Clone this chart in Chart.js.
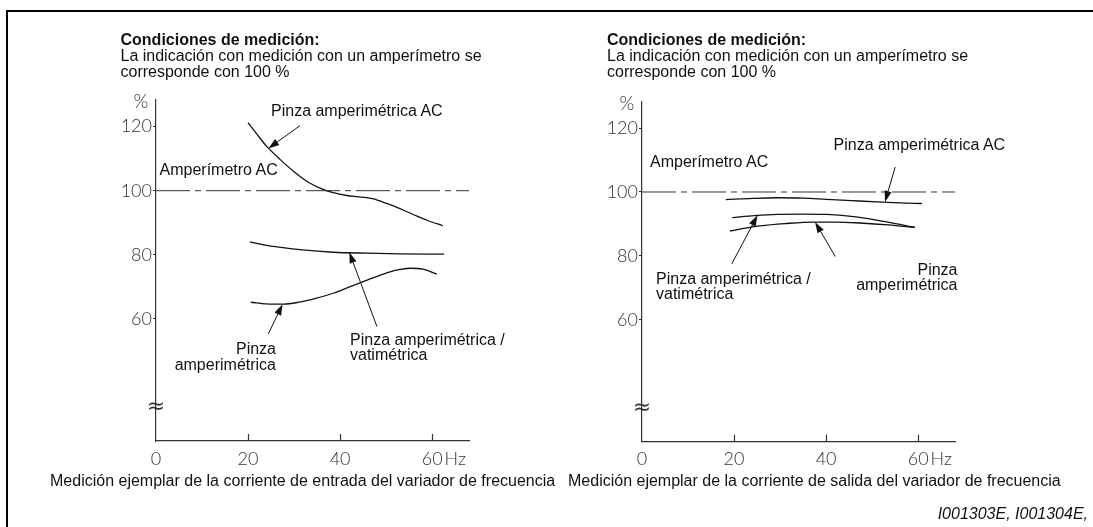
<!DOCTYPE html>
<html>
<head>
<meta charset="utf-8">
<script src="https://cdn.jsdelivr.net/npm/chart.js@4.4.1/dist/chart.umd.min.js"></script>
<style>
  html, body { margin: 0; padding: 0; background: #fff; }
  #page { position: relative; width: 1093px; height: 527px; overflow: hidden; background: #fff;
          font-family: 'Liberation Sans', Arial, Helvetica, sans-serif; color: #111; }
  #frame { position: absolute; left: 6px; top: 10px; width: 1200px; height: 700px;
           border-left: 2px solid #000; border-top: 2px solid #000; }
  canvas { position: absolute; top: 0; }
  .t { position: absolute; font-size: 16px; line-height: 16px; white-space: nowrap; }
  .b { font-weight: bold; }
  .r { text-align: right; }
  .i { font-style: italic; }
</style>
</head>
<body>
<div id="page">
  <div id="frame"></div>
  <canvas id="entrada" width="607" height="527" style="left:0px"></canvas>
  <canvas id="salida" width="607" height="527" style="left:486px"></canvas>

  <!-- Entrada -->
  <div class="t b" style="left:120.5px;top:32px">Condiciones de medición:</div>
  <div class="t" style="left:120.5px;top:48px">La indicación con medición con un amperímetro se</div>
  <div class="t" style="left:120.5px;top:63.5px">corresponde con 100 %</div>
  <div class="t" style="left:271px;top:103px">Pinza amperimétrica AC</div>
  <div class="t" style="left:159.5px;top:161.5px">Amperímetro AC</div>
  <div class="t" style="left:350px;top:331.5px">Pinza amperimétrica /</div>
  <div class="t" style="left:350px;top:346.5px">vatimétrica</div>
  <div class="t r" style="right:817px;top:341px">Pinza</div>
  <div class="t r" style="right:817px;top:356.5px">amperimétrica</div>
  <div class="t" style="left:50px;top:472.5px">Medición ejemplar de la corriente de entrada del variador de frecuencia</div>

  <!-- Salida -->
  <div class="t b" style="left:607px;top:32px">Condiciones de medición:</div>
  <div class="t" style="left:607px;top:48px">La indicación con medición con un amperímetro se</div>
  <div class="t" style="left:607px;top:63.5px">corresponde con 100 %</div>
  <div class="t" style="left:833.5px;top:137px">Pinza amperimétrica AC</div>
  <div class="t" style="left:650px;top:154px">Amperímetro AC</div>
  <div class="t" style="left:656px;top:270.5px">Pinza amperimétrica /</div>
  <div class="t" style="left:656px;top:286px">vatimétrica</div>
  <div class="t r" style="right:135.5px;top:261.5px">Pinza</div>
  <div class="t r" style="right:135.5px;top:276.5px">amperimétrica</div>
  <div class="t" style="left:568px;top:473px">Medición ejemplar de la corriente de salida del variador de frecuencia</div>

  <div class="t i r" style="right:5px;top:505.5px">I001303E, I001304E,</div>
</div>

<script>
// Axes
const X_MIN = 0, X_MAX = 68;          // Hz
const Y_MIN = 21.9, Y_MAX = 128.3;    // %
const X_TICKS = [0, 20, 40, 60];
const Y_TICKS = [60, 80, 100, 120];
const X_UNIT = 'Hz';
const Y_UNIT = '%';
const REFERENCE_PCT = 100;            // Amperímetro AC

// Corriente de entrada del variador
const inAcClampHz   = [20, 22, 24, 27, 30, 33, 36, 38.5, 41.5, 44, 47, 50, 53, 56, 59, 62.3];
const inAcClampPct  = [121.2, 117.5, 113.9, 109.7, 105.9, 102.7, 100.6, 99.4, 98.5, 98.1, 97.5, 96.1, 94.4, 92.5, 90.7, 89.1];
const inWattClampHz  = [20.4, 25.5, 31.3, 38.5, 45.8, 53, 62.6];
const inWattClampPct = [84.0, 82.6, 81.6, 80.8, 80.5, 80.3, 80.2];
const inClampHz  = [20.6, 24, 27.7, 31, 34.9, 38.5, 42.2, 46, 49.4, 52.5, 55.2, 58, 61];
const inClampPct = [65.2, 64.7, 64.6, 65.2, 66.5, 68, 70.1, 72.2, 74, 75.3, 75.8, 75.5, 74];

// Corriente de salida del variador
const outAcClampHz   = [18.2, 24, 29.3, 35, 40.1, 45.5, 51, 56, 60.8];
const outAcClampPct  = [97.6, 98.0, 98.2, 98.1, 97.7, 97.3, 96.9, 96.6, 96.4];
const outWattClampHz  = [19.6, 24.5, 29.3, 35, 40.1, 45.5, 51, 55.5, 59.3];
const outWattClampPct = [92.0, 92.6, 93.0, 93.1, 93.0, 92.4, 91.2, 90.0, 88.9];
const outClampHz  = [19.1, 22.5, 25.7, 31, 37.2, 42.5, 47.4, 53.5, 59.3];
const outClampPct = [87.8, 88.7, 89.4, 90.1, 90.6, 90.6, 90.3, 89.7, 88.9];

// Leader arrows: [tail Hz, tail %] -> [tip Hz, tip %]
const inArrows = [
  { from: [31.3, 120.3], to: [24.4, 113.2] },
  { from: [48.0, 57.6],  to: [42.0, 80.8] },
  { from: [24.4, 55.3],  to: [27.5, 64.6] }
];
const outArrows = [
  { from: [55.0, 107.8], to: [52.8, 96.9] },
  { from: [19.5, 77.5],  to: [25.1, 92.7] },
  { from: [42.0, 79.8],  to: [37.6, 90.6] }
];

const INK = '#111';
const AXIS = '#333';
const TICK_FONT = { family: "Lato, 'DejaVu Sans', sans-serif", size: 18, weight: 300 };

function pts(xs, ys) { return xs.map((x, i) => ({ x, y: ys[i] })); }

function curve(xs, ys) {
  return {
    data: pts(xs, ys), borderColor: INK, borderWidth: 1.3, pointRadius: 0,
    cubicInterpolationMode: 'monotone', fill: false
  };
}

function referenceLine() {
  return {
    data: [{ x: X_MIN, y: REFERENCE_PCT }, { x: X_MAX, y: REFERENCE_PCT }],
    borderColor: AXIS, borderWidth: 1, pointRadius: 0, borderDash: [34, 5, 6, 5], fill: false
  };
}

function drawArrow(ctx, x1, y1, x2, y2) {
  const ang = Math.atan2(y2 - y1, x2 - x1);
  const len = 11, half = 3.6;
  const bx = x2 - Math.cos(ang) * len, by = y2 - Math.sin(ang) * len;
  ctx.beginPath();
  ctx.moveTo(x1, y1);
  ctx.lineTo(bx, by);
  ctx.lineWidth = 1;
  ctx.strokeStyle = INK;
  ctx.stroke();
  ctx.beginPath();
  ctx.moveTo(x2, y2);
  ctx.lineTo(bx - Math.sin(ang) * half, by + Math.cos(ang) * half);
  ctx.lineTo(bx + Math.sin(ang) * half, by - Math.cos(ang) * half);
  ctx.closePath();
  ctx.fillStyle = INK;
  ctx.fill();
}

const decorations = {
  id: 'decorations',
  afterDraw(chart, args, opts) {
    const { ctx, scales: { x, y } } = chart;
    ctx.save();
    // inward tick marks on the frequency axis
    ctx.strokeStyle = AXIS;
    ctx.lineWidth = 1.2;
    X_TICKS.forEach(v => {
      if (v === X_MIN) return;
      const px = Math.round(x.getPixelForValue(v)) + 0.5;
      ctx.beginPath();
      ctx.moveTo(px, y.bottom);
      ctx.lineTo(px, y.bottom - 7);
      ctx.stroke();
    });
    // unit after the last frequency label
    const fontStr = `${TICK_FONT.weight} ${TICK_FONT.size}px ${TICK_FONT.family}`;
    const items = x.getLabelItems();
    const last = items.find(it => it.label === String(X_TICKS[X_TICKS.length - 1]));
    if (last) {
      ctx.font = fontStr;
      ctx.fillStyle = AXIS;
      const w = ctx.measureText(last.label).width;
      ctx.textAlign = 'left';
      ctx.textBaseline = last.options.textBaseline;
      ctx.fillText(X_UNIT, last.options.translation[0] + w / 2 + 2, last.options.translation[1] + last.textOffset);
    }
    // unit on top of the percentage axis
    ctx.font = `${TICK_FONT.weight} 19px ${TICK_FONT.family}`;
    ctx.fillStyle = AXIS;
    ctx.textAlign = 'center';
    ctx.textBaseline = 'middle';
    ctx.fillText(Y_UNIT, x.left - 15, y.top + 2);
    // axis break mark
    ctx.font = "22px 'DejaVu Sans', sans-serif";
    ctx.fillStyle = AXIS;
    ctx.fillText('\u2248', x.left, y.getPixelForValue(32.3));
    // leaders
    (opts.arrows || []).forEach(a => drawArrow(ctx,
      x.getPixelForValue(a.from[0]), y.getPixelForValue(a.from[1]),
      x.getPixelForValue(a.to[0]), y.getPixelForValue(a.to[1])));
    ctx.restore();
  }
};

function makeChart(id, datasets, arrows, top, bottomPad) {
  return new Chart(document.getElementById(id), {
    type: 'line',
    data: { datasets },
    plugins: [decorations],
    options: {
      responsive: false,
      animation: false,
      events: [],
      layout: { padding: { left: 116, right: 138, top: top, bottom: bottomPad } },
      plugins: { legend: { display: false }, tooltip: { enabled: false }, decorations: { arrows } },
      scales: {
        x: {
          type: 'linear', min: X_MIN, max: X_MAX,
          afterFit: s => { s.height = 40; },
          afterBuildTicks: s => { s.ticks = X_TICKS.map(v => ({ value: v })); },
          ticks: { font: TICK_FONT, color: AXIS, padding: 7, maxRotation: 0, autoSkip: false,
                   callback: v => String(v) },
          grid: { drawOnChartArea: false, drawTicks: false },
          border: { color: AXIS, width: 1.2 }
        },
        y: {
          type: 'linear', min: Y_MIN, max: Y_MAX,
          afterFit: s => { s.width = 40; },
          afterBuildTicks: s => { s.ticks = Y_TICKS.map(v => ({ value: v })); },
          ticks: { font: TICK_FONT, color: AXIS, padding: 1, autoSkip: false, callback: v => String(v) },
          grid: { drawOnChartArea: false, drawTicks: true, tickLength: 3, tickColor: AXIS, tickWidth: 1.2 },
          border: { color: AXIS, width: 1.2 }
        }
      }
    }
  });
}

makeChart('entrada', [
  referenceLine(),
  curve(inAcClampHz, inAcClampPct),
  curve(inWattClampHz, inWattClampPct),
  curve(inClampHz, inClampPct)
], inArrows, 100, 46);

makeChart('salida', [
  referenceLine(),
  curve(outAcClampHz, outAcClampPct),
  curve(outWattClampHz, outWattClampPct),
  curve(outClampHz, outClampPct)
], outArrows, 101.5, 45.3);
</script>
</body>
</html>
